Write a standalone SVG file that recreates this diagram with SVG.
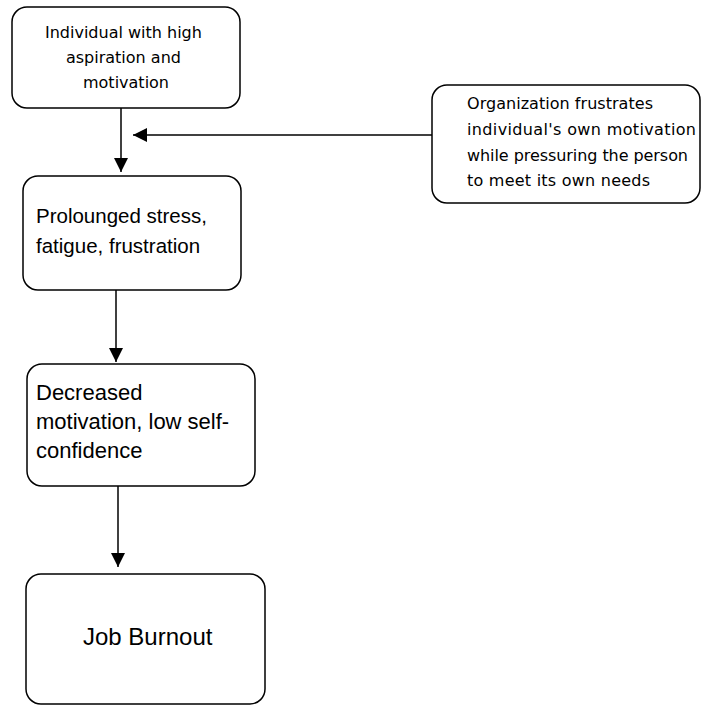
<svg xmlns="http://www.w3.org/2000/svg" width="702" height="705" viewBox="0 0 702 705">
  <style>
    .box { fill: #ffffff; stroke: #000000; stroke-width: 1.5; }
    .small { font-family: "DejaVu Sans", Verdana, sans-serif; font-size: 16px; fill: #000000; }
    .big { font-family: "Liberation Sans", Arial, sans-serif; font-size: 20.5px; fill: #000000; }
    .edge { stroke: #000000; stroke-width: 1.5; fill: none; }
  </style>
  <defs>
    <marker id="head" viewBox="0 0 10 10" refX="10" refY="5" markerWidth="14" markerHeight="14" markerUnits="userSpaceOnUse" orient="auto">
      <path d="M0,0 L10,5 L0,10 Z" fill="#000000"/>
    </marker>
  </defs>
  <rect width="702" height="705" fill="#ffffff"/>

  <g id="connectors">
    <line class="edge" x1="121" y1="108" x2="121" y2="172" marker-end="url(#head)"/>
    <line class="edge" x1="432" y1="135" x2="133" y2="135" marker-end="url(#head)"/>
    <line class="edge" x1="116" y1="290" x2="116" y2="362" marker-end="url(#head)"/>
    <line class="edge" x1="118" y1="486" x2="118" y2="567" marker-end="url(#head)"/>
  </g>

  <g id="node-individual">
    <rect class="box" x="12" y="7" width="228" height="101" rx="15"/>
    <text class="small" text-anchor="middle">
      <tspan x="126" y="38">Individual with high</tspan>
      <tspan x="126" y="63">aspiration and</tspan>
      <tspan x="126" y="88">motivation</tspan>
    </text>
  </g>

  <g id="node-organization">
    <rect class="box" x="432" y="85" width="268" height="118" rx="15"/>
    <g class="small">
      <text x="467" y="109" textLength="186" lengthAdjust="spacing">Organization frustrates</text>
      <text x="467" y="135" textLength="229" lengthAdjust="spacing">individual's own motivation</text>
      <text x="467" y="161" textLength="221" lengthAdjust="spacing">while pressuring the person</text>
      <text x="467" y="186" textLength="183" lengthAdjust="spacing">to meet its own needs</text>
    </g>
  </g>

  <g id="node-stress">
    <rect class="box" x="23" y="176" width="218" height="114" rx="15"/>
    <text class="big">
      <tspan x="36" y="223">Prolounged stress,</tspan>
      <tspan x="36" y="253">fatigue, frustration</tspan>
    </text>
  </g>

  <g id="node-decreased">
    <rect class="box" x="27" y="364" width="228" height="122" rx="15"/>
    <text class="big" style="font-size:22px">
      <tspan x="36" y="400">Decreased</tspan>
      <tspan x="36" y="429">motivation, low self-</tspan>
      <tspan x="36" y="458">confidence</tspan>
    </text>
  </g>

  <g id="node-burnout">
    <rect class="box" x="26" y="574" width="239" height="130" rx="15"/>
    <text class="big" style="font-size:24px" x="83" y="645">Job Burnout</text>
  </g>
</svg>
